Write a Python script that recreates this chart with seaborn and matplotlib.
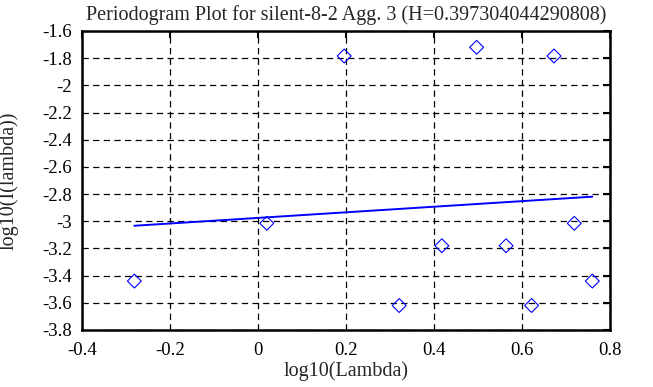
import numpy as np
import pandas as pd
import matplotlib
matplotlib.use("Agg")
import matplotlib.pyplot as plt
import seaborn as sns

# data
log_lambda = [-0.281, 0.020, 0.196, 0.321, 0.418, 0.497, 0.564, 0.622, 0.673, 0.719, 0.760]
log_I = [-3.44, -3.015, -1.784, -3.62, -3.18, -1.72, -3.18, -3.62, -1.784, -3.015, -3.44]

# least squares fit line endpoints
fit_x = [-0.281, 0.760]
fit_y = [-3.033, -2.819]

title = "Periodogram Plot for silent-8-2 Agg. 3 (H=0.397304044290808)"
x_ticks = [-0.4, -0.2, 0, 0.2, 0.4, 0.6, 0.8]
y_ticks = [-1.6, -1.8, -2, -2.2, -2.4, -2.6, -2.8, -3, -3.2, -3.4, -3.6, -3.8]

sns.set_style("white")
plt.rcParams['font.family'] = ['Liberation Serif', 'DejaVu Serif']

points = pd.DataFrame({"x": log_lambda, "y": log_I})
fit = pd.DataFrame({"x": fit_x, "y": fit_y})

fig = plt.figure(figsize=(6.53, 3.87), dpi=100)
ax = fig.add_axes([0.1256, 0.1473, 0.8084, 0.7726])

sns.lineplot(data=fit, x="x", y="y", ax=ax, color="#0000ff", linewidth=1.4, zorder=3)
sns.scatterplot(data=points, x="x", y="y", ax=ax, marker="D", s=50,
                facecolors="none", edgecolor="#0000ff", linewidth=0.8, zorder=4)

ax.set_xlim(-0.4, 0.8)
ax.set_ylim(-3.8, -1.6)
ax.set_xticks(x_ticks)
ax.set_yticks(y_ticks)
ax.set_xticklabels(["%g" % v for v in x_ticks])
ax.set_yticklabels(["%g" % v for v in y_ticks])

ax.grid(True, color="black", linestyle=(0, (5, 3.5)), linewidth=0.9)
ax.set_axisbelow(True)
ax.tick_params(direction="in", length=5, width=1.5, top=True, right=True,
               labelsize=13.5, colors="black")
ax.tick_params(axis="x", pad=9)
ax.tick_params(axis="y", pad=7)
for s in ax.spines.values():
    s.set_linewidth(1.8)
    s.set_color("black")

ax.set_title(title, fontsize=14.5, pad=8)
ax.set_xlabel("log10(Lambda)", fontsize=14.5, labelpad=1)
ax.set_ylabel("log10(I(lambda))", fontsize=14.5, labelpad=17)

fig.savefig("out.png", dpi=100)
